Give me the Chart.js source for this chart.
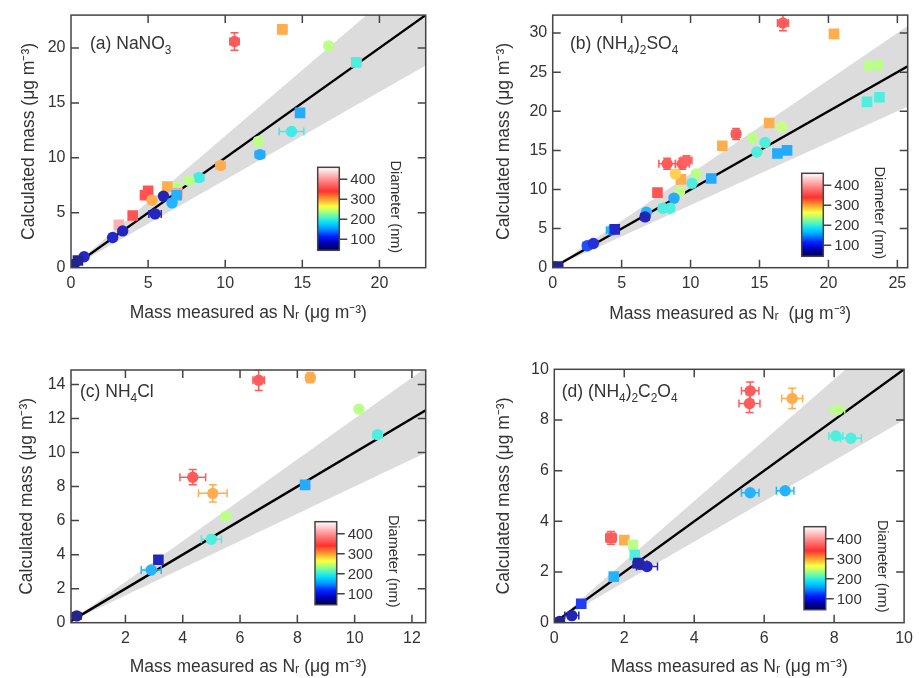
<!DOCTYPE html>
<html>
<head>
<meta charset="utf-8">
<script src="https://cdn.jsdelivr.net/npm/chart.js@4.4.1/dist/chart.umd.min.js"></script>
<style>
  body { margin: 0; background: #fff; width: 919px; height: 678px; overflow: hidden; position: relative; }
  canvas { position: absolute; }
</style>
</head>
<body>
<canvas id="pa" width="460" height="339" style="left:0;top:0"></canvas>
<canvas id="pb" width="460" height="339" style="left:459px;top:0"></canvas>
<canvas id="pc" width="460" height="339" style="left:0;top:339px"></canvas>
<canvas id="pd" width="460" height="339" style="left:459px;top:339px"></canvas>
<script>
// (a) NaNO3 : measured (x), calculated (y), diameter in nm, marker kind, error bars
const aX = [10.6, 13.7, 16.7, 18.5, 14.85, 14.3, 12.15, 12.25, 9.7, 8.3, 7.65, 6.85, 6.25, 4.8, 5.0, 5.25, 6.0, 6.9, 6.55, 6.85, 4.0, 3.1, 5.45, 3.35, 2.7, 0.85, 0.45, 0.2]
const aY = [20.6, 21.7, 20.2, 18.7, 14.1, 12.4, 11.5, 10.3, 9.3, 8.2, 7.95, 7.35, 7.4, 6.6, 7.0, 6.15, 6.5, 6.8, 5.9, 6.6, 4.75, 3.9, 4.9, 3.35, 2.75, 1.0, 0.65, 0.3]
const aD = [350, 300, 240, 200, 155, 195, 240, 155, 300, 195, 240, 240, 300, 345, 345, 300, 75, 400, 160, 160, 345, 410, 80, 80, 85, 85, 65, 60]
const aKind = ['c','s','c','s','s','c','c','c','c','c','c','c','s','s','s','c','c','s','c','s','s','s','c','c','c','c','s','c']
const aXErr = [0.3, 0.3, 0.2, 0.3, 0.2, 0.8, 0.2, 0.3, 0.3, 0.3, 0.2, 0, 0, 0, 0, 0, 0, 0, 0, 0, 0, 0, 0.4, 0.2, 0.2, 0.2, 0, 0]
const aYErr = [0.8, 0.4, 0.2, 0.2, 0.2, 0.2, 0.2, 0.2, 0.2, 0.2, 0, 0, 0, 0, 0, 0, 0, 0, 0, 0, 0, 0, 0, 0, 0, 0, 0, 0]

// (b) (NH4)2SO4
const bX = [16.7, 20.4, 22.9, 23.6, 22.8, 23.7, 15.7, 16.6, 13.3, 12.3, 14.5, 15.4, 14.8, 16.3, 17.0, 11.5, 10.4, 10.1, 8.3, 9.4, 9.7, 9.3, 8.9, 7.6, 9.2, 8.8, 8.0, 8.5, 6.8, 6.7, 4.3, 4.5, 2.5, 2.95, 0.2, 0.4]
const bY = [31.3, 29.9, 25.8, 25.9, 21.2, 21.8, 18.5, 18.0, 17.1, 15.6, 16.6, 16.0, 14.8, 14.6, 15.0, 11.4, 12.0, 10.8, 13.3, 13.3, 13.7, 11.3, 12.0, 9.6, 9.7, 8.9, 7.6, 7.6, 7.1, 6.5, 4.8, 4.9, 2.8, 3.1, 0.1, 0.15]
const bD = [350, 300, 240, 240, 200, 200, 300, 245, 350, 300, 240, 200, 200, 155, 155, 155, 240, 200, 350, 350, 355, 300, 285, 345, 240, 155, 200, 200, 160, 75, 160, 85, 120, 95, 60, 60]
const bKind = ['c','s','c','c','s','s','s','c','c','s','c','c','c','s','s','s','c','c','c','c','c','s','c','s','c','c','c','c','c','c','c','s','c','c','c','s']
const bXErr = [0.4, 0.3, 0, 0, 0, 0, 0, 0, 0.3, 0, 0, 0, 0, 0, 0, 0.2, 0, 0, 0.6, 0.5, 0.4, 0, 0, 0, 0, 0, 0.3, 0.3, 0.2, 0.3, 0.4, 0, 0.3, 0, 0, 0]
const bYErr = [1.0, 0.4, 0, 0, 0, 0, 0, 0, 0.7, 0, 0, 0, 0, 0, 0, 0, 0, 0, 0.7, 0.7, 0.6, 0, 0.5, 0, 0, 0, 0, 0, 0, 0, 0, 0, 0, 0, 0, 0]

// (c) NH4Cl
const cX = [6.65, 8.45, 10.15, 10.8, 8.27, 4.35, 5.05, 5.5, 5.0, 3.15, 2.9, 0.3]
const cY = [14.25, 14.4, 12.55, 11.05, 8.1, 8.55, 7.6, 6.25, 4.9, 3.7, 3.1, 0.4]
const cD = [350, 300, 240, 200, 155, 350, 300, 240, 200, 80, 160, 60]
const cKind = ['c','c','c','c','s','c','c','c','c','s','c','c']
const cXErr = [0.2, 0.15, 0.1, 0.15, 0.15, 0.45, 0.5, 0.1, 0.35, 0.1, 0.35, 0.15]
const cYErr = [0.6, 0.3, 0.15, 0.15, 0.15, 0.45, 0.5, 0.15, 0.2, 0.1, 0.15, 0.1]

// (d) (NH4)2C2O4
const dX = [5.6, 5.58, 6.8, 8.1, 8.05, 8.48, 5.6, 6.6, 1.62, 2.0, 2.25, 2.3, 2.45, 2.65, 2.4, 1.7, 0.77, 0.5, 0.15]
const dY = [9.15, 8.65, 8.85, 8.4, 7.37, 7.28, 5.13, 5.21, 3.35, 3.26, 3.07, 2.67, 2.3, 2.22, 2.35, 1.82, 0.75, 0.28, 0.05]
const dD = [350, 350, 300, 240, 200, 200, 160, 160, 350, 300, 240, 200, 85, 80, 70, 160, 110, 75, 60]
const dKind = ['c','c','c','c','c','c','c','c','s','s','s','s','c','c','s','s','s','c','c']
const dXErr = [0.25, 0.3, 0.3, 0.2, 0.2, 0.3, 0.25, 0.25, 0.15, 0.1, 0, 0, 0.2, 0.3, 0, 0.1, 0.1, 0.2, 0.1]
const dYErr = [0.35, 0.35, 0.4, 0.1, 0.1, 0.1, 0.1, 0.1, 0.25, 0.1, 0, 0, 0, 0.1, 0, 0.1, 0.1, 0.1, 0.05]

// tick labels
const aTicks = [0, 5, 10, 15, 20]
const bXTicks = [0, 5, 10, 15, 20, 25]
const bYTicks = [0, 5, 10, 15, 20, 25, 30]
const cXTicks = [2, 4, 6, 8, 10, 12]
const cYTicks = [0, 2, 4, 6, 8, 10, 12, 14]
const dTicks = [0, 2, 4, 6, 8, 10]
const cbarTicks = [100, 200, 300, 400]

// 1:1 line and +/-20% band
const bandSlopes = [0.8, 1.2]

// colour scale for diameter (nm)
const cmapD = [45, 80, 115, 150, 180, 205, 235, 265, 300, 340, 390, 460]
const cmapC = ['#00004a','#0000b4','#0020ff','#0090ff','#00d8ff','#40f0d0','#a0ff80','#ffff40','#ffa030','#ff3030','#ff8080','#ffffff']

const FONT = '"Liberation Sans", Arial, sans-serif'
const TXT = '#333'

function hex2rgb(h) {
  return [parseInt(h.slice(1, 3), 16), parseInt(h.slice(3, 5), 16), parseInt(h.slice(5, 7), 16)]
}
// markers in the figure look a little washed out, so blend towards white
function dColor(d) {
  let i = 0
  while (i < cmapD.length - 2 && d > cmapD[i + 1]) i++
  const t = Math.min(1, Math.max(0, (d - cmapD[i]) / (cmapD[i + 1] - cmapD[i])))
  const c0 = hex2rgb(cmapC[i]), c1 = hex2rgb(cmapC[i + 1])
  const c = c0.map((v, k) => Math.round(v + (c1[k] - v) * t)).map(v => Math.round(v * 0.86 + 255 * 0.14))
  return `rgb(${c[0]},${c[1]},${c[2]})`
}

function drawRich(ctx, x, y, parts, size) {
  ctx.fillStyle = TXT
  ctx.textAlign = 'left'
  ctx.textBaseline = 'alphabetic'
  parts.forEach(([t, sub]) => {
    ctx.font = (sub ? size * 0.68 : size) + 'px ' + FONT
    ctx.fillText(t, x, y + (sub ? size * 0.3 : 0))
    x += ctx.measureText(t).width
  })
}

const errorBars = {
  id: 'errorBars',
  beforeDatasetDraw(chart, args) {
    const ds = chart.data.datasets[args.index]
    if (!ds.xErr) return
    const {ctx, chartArea: ca} = chart
    const xs = chart.scales.x, ys = chart.scales.y
    ctx.save()
    ctx.beginPath()
    ctx.rect(ca.left, ca.top, ca.right - ca.left, ca.bottom - ca.top)
    ctx.clip()
    ctx.lineWidth = 1.5
    ds.data.forEach((p, i) => {
      const px = xs.getPixelForValue(p.x), py = ys.getPixelForValue(p.y)
      ctx.strokeStyle = ds.backgroundColor[i]
      ctx.beginPath()
      if (ds.xErr[i]) {
        const x1 = xs.getPixelForValue(p.x - ds.xErr[i]), x2 = xs.getPixelForValue(p.x + ds.xErr[i])
        ctx.moveTo(x1, py); ctx.lineTo(x2, py)
        ctx.moveTo(x1, py - 4); ctx.lineTo(x1, py + 4)
        ctx.moveTo(x2, py - 4); ctx.lineTo(x2, py + 4)
      }
      if (ds.yErr[i]) {
        const y1 = ys.getPixelForValue(p.y - ds.yErr[i]), y2 = ys.getPixelForValue(p.y + ds.yErr[i])
        ctx.moveTo(px, y1); ctx.lineTo(px, y2)
        ctx.moveTo(px - 4, y1); ctx.lineTo(px + 4, y1)
        ctx.moveTo(px - 4, y2); ctx.lineTo(px + 4, y2)
      }
      ctx.stroke()
    })
    ctx.restore()
  }
}

const panelDeco = {
  id: 'panelDeco',
  afterDraw(chart, args, o) {
    const {ctx, chartArea: ca, scales} = chart
    ctx.save()
    // frame with inward ticks on all sides
    ctx.strokeStyle = '#444'
    ctx.lineWidth = 1.5
    ctx.strokeRect(ca.left, ca.top, ca.right - ca.left, ca.bottom - ca.top)
    ctx.beginPath()
    scales.x.ticks.forEach(t => {
      const px = scales.x.getPixelForValue(t.value)
      if (px < ca.left + 2 || px > ca.right - 2) return
      ctx.moveTo(px, ca.bottom); ctx.lineTo(px, ca.bottom - 8)
      ctx.moveTo(px, ca.top); ctx.lineTo(px, ca.top + 8)
    })
    scales.y.ticks.forEach(t => {
      const py = scales.y.getPixelForValue(t.value)
      if (py < ca.top + 2 || py > ca.bottom - 2) return
      ctx.moveTo(ca.left, py); ctx.lineTo(ca.left + 8, py)
      ctx.moveTo(ca.right, py); ctx.lineTo(ca.right - 8, py)
    })
    ctx.stroke()

    drawRich(ctx, o.labelX, o.labelY, o.label, 17.5)

    // colour bar
    const cb = o.cbar
    const dMin = cmapD[0], dMax = cmapD[cmapD.length - 1]
    const g = ctx.createLinearGradient(0, cb.y + cb.h, 0, cb.y)
    cmapD.forEach((d, i) => g.addColorStop((d - dMin) / (dMax - dMin), cmapC[i]))
    ctx.fillStyle = g
    ctx.fillRect(cb.x, cb.y, cb.w, cb.h)
    ctx.strokeStyle = '#444'
    ctx.lineWidth = 1.5
    ctx.strokeRect(cb.x, cb.y, cb.w, cb.h)
    ctx.fillStyle = TXT
    ctx.font = '15px ' + FONT
    ctx.textAlign = 'left'
    ctx.textBaseline = 'middle'
    ctx.beginPath()
    cbarTicks.forEach(v => {
      const py = cb.y + (dMax - v) / (dMax - dMin) * cb.h
      ctx.moveTo(cb.x + cb.w, py); ctx.lineTo(cb.x + cb.w + 8, py)
      ctx.fillText(String(v), cb.x + cb.w + 11, py + 1)
    })
    ctx.stroke()
    ctx.save()
    ctx.translate(cb.x + cb.w + 56, cb.y + cb.h / 2 - 2)
    ctx.rotate(Math.PI / 2)
    ctx.textAlign = 'center'
    ctx.font = '14.5px ' + FONT
    ctx.fillText('Diameter (nm)', 0, 0)
    ctx.restore()
    ctx.restore()
  }
}

function makePanel(id, p) {
  const xMax = p.xMax
  return new Chart(document.getElementById(id), {
    type: 'scatter',
    data: {
      datasets: [
        {
          data: p.X.map((x, i) => ({x, y: p.Y[i]})),
          pointStyle: p.K.map(k => k === 's' ? 'rect' : 'circle'),
          pointRadius: p.K.map(k => k === 's' ? 7.5 : 5.7),
          backgroundColor: p.D.map(dColor),
          borderWidth: 0,
          xErr: p.XE,
          yErr: p.YE
        },
        {
          data: [{x: 0, y: 0}, {x: xMax, y: xMax}],
          showLine: true, borderColor: '#000', borderWidth: 2.4, pointRadius: 0
        },
        {
          data: [{x: 0, y: 0}, {x: xMax, y: xMax * bandSlopes[1]}],
          showLine: true, borderWidth: 0, pointRadius: 0,
          fill: '+1', backgroundColor: '#dcdcdc'
        },
        {
          data: [{x: 0, y: 0}, {x: xMax, y: xMax * bandSlopes[0]}],
          showLine: true, borderWidth: 0, pointRadius: 0, fill: false
        }
      ]
    },
    options: {
      responsive: false,
      animation: false,
      devicePixelRatio: 1,
      layout: {padding: {left: 0, top: p.padTop, right: p.padRight, bottom: 0}},
      plugins: {
        legend: {display: false},
        tooltip: {enabled: false},
        panelDeco: {label: p.label, labelX: p.labelX, labelY: p.labelY, cbar: p.cbar}
      },
      scales: {
        x: {
          type: 'linear', min: p.xMin, max: xMax,
          afterBuildTicks: s => { s.ticks = p.xTicks.map(v => ({value: v})) },
          afterFit: s => { s.height = p.xAxisH },
          grid: {display: false, drawTicks: false},
          border: {display: false},
          ticks: {padding: 6, autoSkip: false, maxRotation: 0, color: TXT, font: {family: FONT, size: 16}},
          title: {display: true, text: p.xTitle, color: TXT, font: {family: FONT, size: 17.5}, padding: {top: 0, bottom: p.xTitlePad}}
        },
        y: {
          type: 'linear', min: 0, max: p.yMax,
          afterBuildTicks: s => { s.ticks = p.yTicks.map(v => ({value: v})) },
          afterFit: s => { s.width = p.yAxisW },
          grid: {display: false, drawTicks: false},
          border: {display: false},
          ticks: {padding: 5.5, autoSkip: false, color: TXT, font: {family: FONT, size: 16}},
          title: {display: true, text: 'Calculated mass (μg m⁻³)', color: TXT, font: {family: FONT, size: 17.5}, padding: {top: p.yTitlePad, bottom: 0}}
        }
      }
    },
    plugins: [errorBars, panelDeco]
  })
}

makePanel('pa', {
  X: aX, Y: aY, D: aD, K: aKind, XE: aXErr, YE: aYErr,
  xMin: 0, xMax: 23, yMax: 23, xTicks: aTicks, yTicks: aTicks,
  padTop: 15, padRight: 34.3, xAxisH: 71.3, yAxisW: 71,
  xTitle: 'Mass measured as Nᵣ (μg m⁻³)', xTitlePad: 15.5, yTitlePad: 19,
  label: [['(a) NaNO', 0], ['3', 1]], labelX: 90, labelY: 48.5,
  cbar: {x: 317.7, y: 167.3, w: 21.6, h: 83}
})
makePanel('pb', {
  X: bX, Y: bY, D: bD, K: bKind, XE: bXErr, YE: bYErr,
  xMin: 0, xMax: 25.75, yMax: 32.3, xTicks: bXTicks, yTicks: bYTicks,
  padTop: 15, padRight: 11.3, xAxisH: 71.3, yAxisW: 93.7,
  xTitle: 'Mass measured as Nᵣ  (μg m⁻³)', xTitlePad: 14.5, yTitlePad: 34.5,
  label: [['(b) (NH', 0], ['4', 1], [')', 0], ['2', 1], ['SO', 0], ['4', 1]], labelX: 111, labelY: 48.5,
  cbar: {x: 342.7, y: 173.3, w: 21.6, h: 83}
})
makePanel('pc', {
  X: cX, Y: cY, D: cD, K: cKind, XE: cXErr, YE: cYErr,
  xMin: 0.1, xMax: 12.48, yMax: 14.85, xTicks: cXTicks, yTicks: cYTicks,
  padTop: 31, padRight: 34.3, xAxisH: 55.3, yAxisW: 71,
  xTitle: 'Mass measured as Nᵣ (μg m⁻³)', xTitlePad: 0, yTitlePad: 16.5,
  label: [['(c) NH', 0], ['4', 1], ['Cl', 0]], labelX: 80, labelY: 57.7,
  cbar: {x: 315, y: 182.7, w: 21.7, h: 83}
})
makePanel('pd', {
  X: dX, Y: dY, D: dD, K: dKind, XE: dXErr, YE: dYErr,
  xMin: 0, xMax: 10, yMax: 10, xTicks: dTicks, yTicks: dTicks,
  padTop: 30.3, padRight: 10, xAxisH: 55.3, yAxisW: 95.3,
  xTitle: 'Mass measured as Nᵣ (μg m⁻³)', xTitlePad: 0, yTitlePad: 34.5,
  label: [['(d) (NH', 0], ['4', 1], [')', 0], ['2', 1], ['C', 0], ['2', 1], ['O', 0], ['4', 1]], labelX: 102.7, labelY: 57.7,
  cbar: {x: 345, y: 187.7, w: 21.7, h: 83}
})
</script>
</body>
</html>
